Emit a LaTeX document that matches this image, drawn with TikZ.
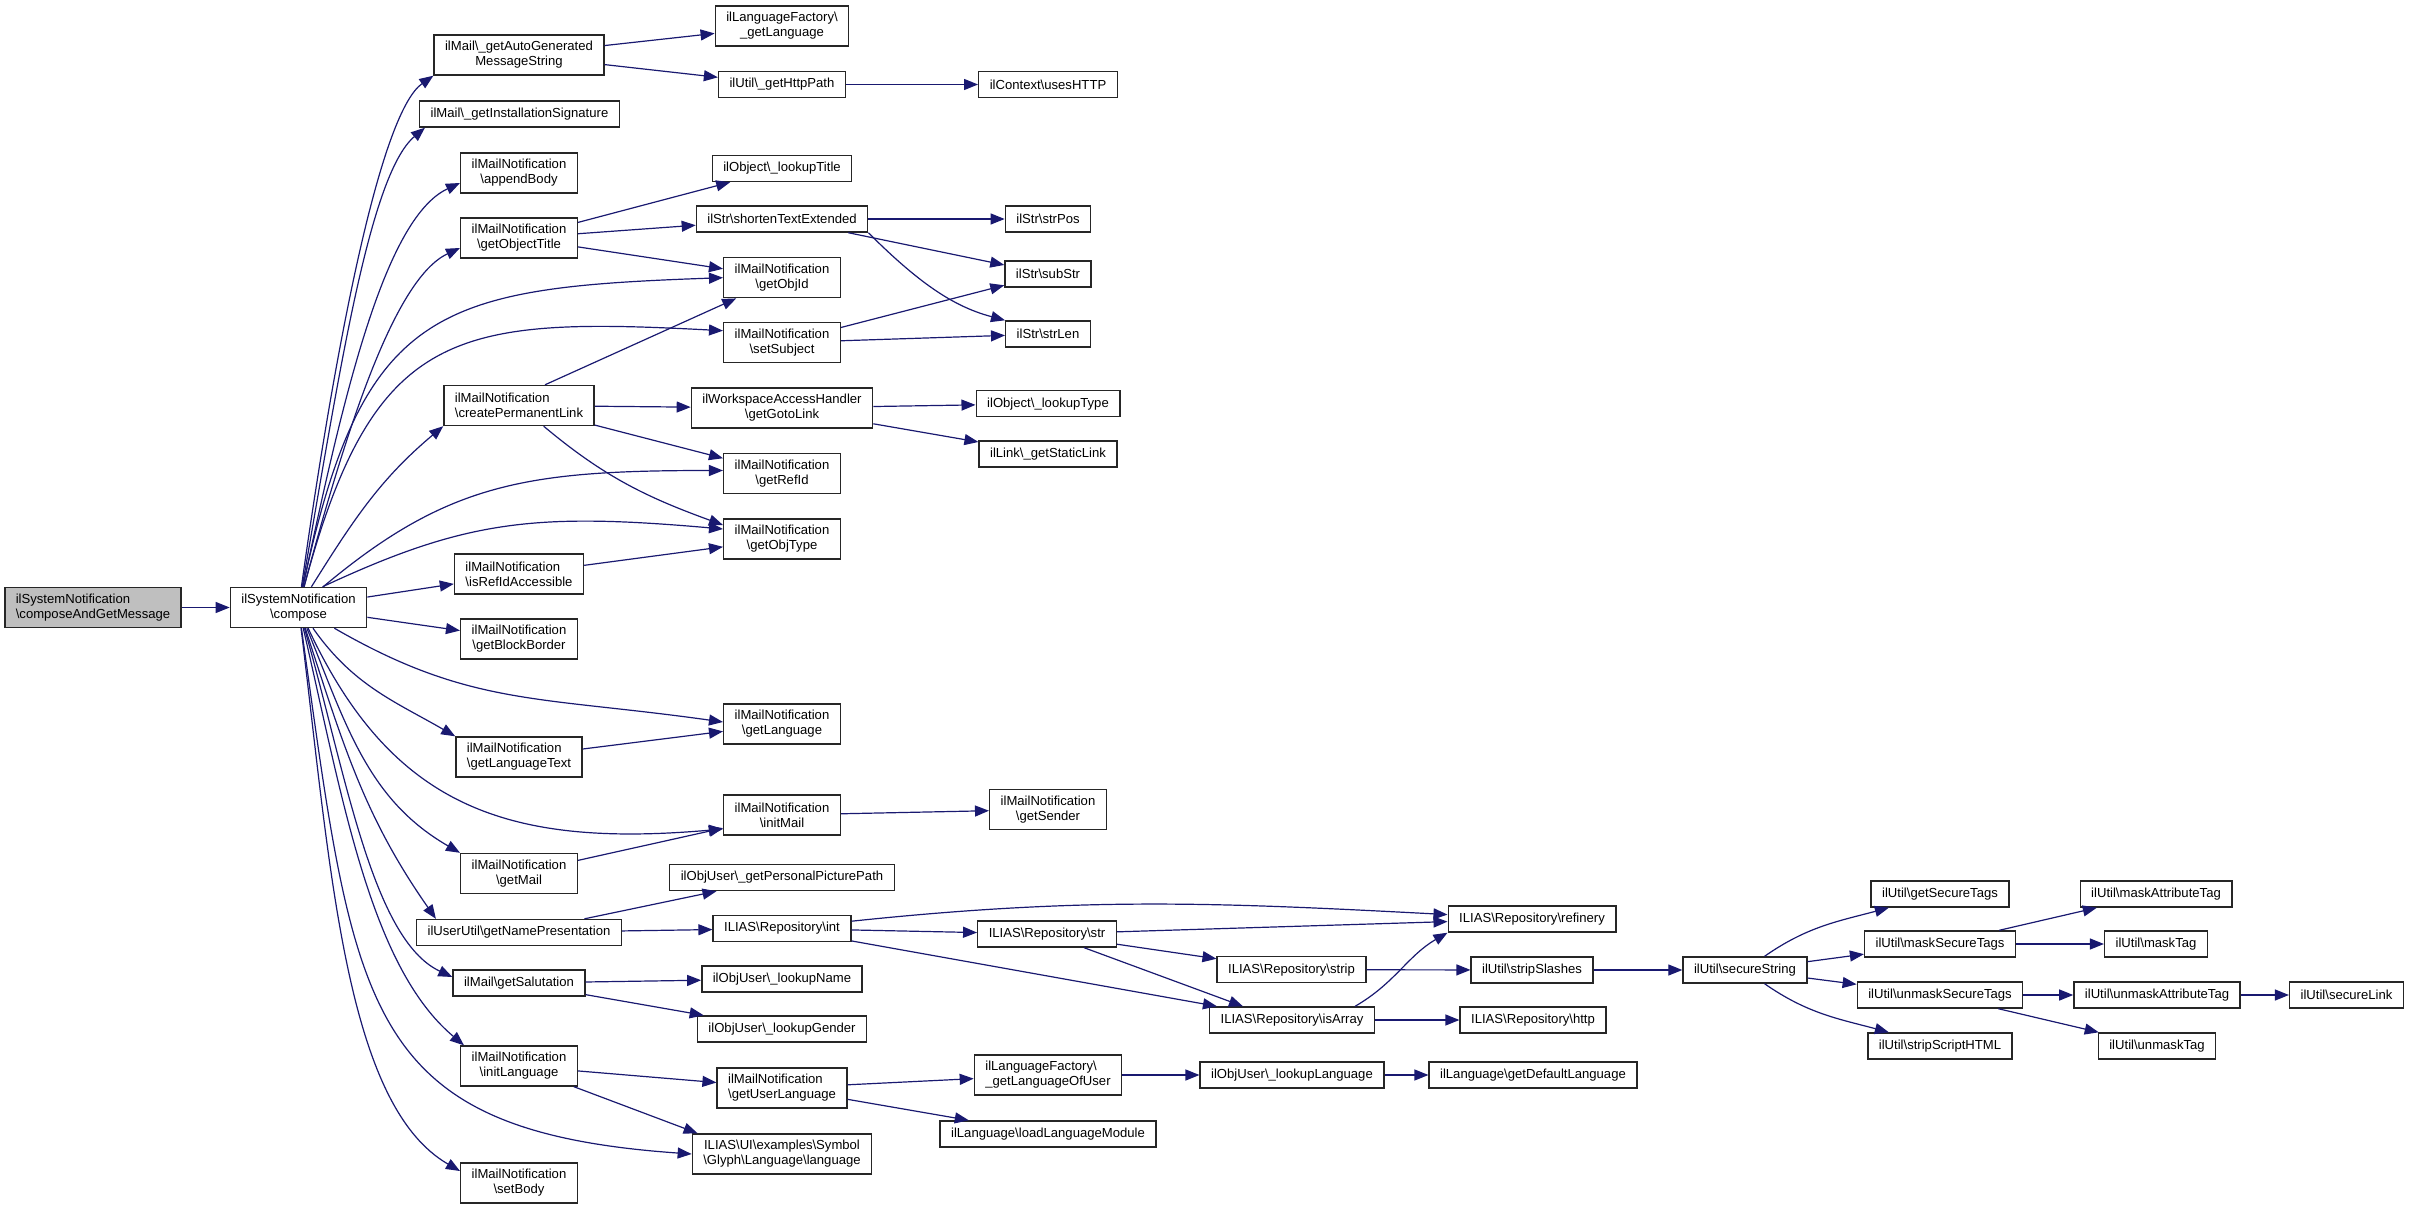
\documentclass[tikz,border=0pt]{standalone}
\usepackage{fontspec}
\setmainfont{Liberation Sans}
\usetikzlibrary{arrows.meta}
\definecolor{edgeblue}{HTML}{191970}
\definecolor{rootgray}{HTML}{BFBFBF}
\newcommand{\bsl}{\textbackslash}
\tikzset{
	fn/.style={draw=black!85, line width=0.7pt, fill=white, align=center,
			inner xsep=5.5pt, inner ysep=2.5pt, minimum height=13pt,
			font=\fontsize{6.55}{7.5}\selectfont},
	fn2/.style={fn, minimum height=20pt},
	fnl/.style={fn2, align=left},
	fnroot/.style={fnl, fill=rootgray},
	call/.style={draw=edgeblue, line width=0.6pt, -{Triangle[length=7pt,width=5.5pt]}}
}
\begin{document}
\begin{tikzpicture}[x=0.5pt, y=0.5pt]
		\useasboundingbox (0,0) rectangle (2409,-1209);

		% caller and compose
		\node[fnroot] (root) at (93,-607.5) {ilSystemNotification\\\bsl composeAndGetMessage};
		\node[fn2] (compose) at (298.5,-607.5) {ilSystemNotification\\\bsl compose};

		% functions called by compose
		\node[fn2] (mailAuto) at (519,-55) {ilMail\bsl\_getAutoGenerated\\MessageString};
		\node[fn] (installSig) at (519.5,-114) {ilMail\bsl\_getInstallationSignature};
		\node[fn2] (appendBody) at (519,-173) {ilMailNotification\\\bsl appendBody};
		\node[fn2] (getObjectTitle) at (519,-238) {ilMailNotification\\\bsl getObjectTitle};
		\node[fnl] (permLink) at (519,-405.5) {ilMailNotification\\\bsl createPermanentLink};
		\node[fnl] (isRefIdAcc) at (519,-574) {ilMailNotification\\\bsl isRefIdAccessible};
		\node[fn2] (blockBorder) at (519,-639) {ilMailNotification\\\bsl getBlockBorder};
		\node[fnl] (langText) at (519,-757) {ilMailNotification\\\bsl getLanguageText};
		\node[fn2] (getMail) at (519,-873.5) {ilMailNotification\\\bsl getMail};
		\node[fn] (namePres) at (519,-932.5) {ilUserUtil\bsl getNamePresentation};
		\node[fn] (salutation) at (519,-983) {ilMail\bsl getSalutation};
		\node[fn2] (initLang) at (519,-1066) {ilMailNotification\\\bsl initLanguage};
		\node[fn2] (setBody) at (519,-1183) {ilMailNotification\\\bsl setBody};

		% third column
		\node[fn2] (factLang) at (782,-26) {ilLanguageFactory\bsl\\\_getLanguage};
		\node[fn] (httpPath) at (782,-84.5) {ilUtil\bsl\_getHttpPath};
		\node[fn] (lookupTitle) at (782,-168.5) {ilObject\bsl\_lookupTitle};
		\node[fn] (shorten) at (782,-219) {ilStr\bsl shortenTextExtended};
		\node[fn2] (objId) at (782,-277.7) {ilMailNotification\\\bsl getObjId};
		\node[fn2] (subject) at (782,-342.7) {ilMailNotification\\\bsl setSubject};
		\node[fn2] (gotoLink) at (782,-408) {ilWorkspaceAccessHandler\\\bsl getGotoLink};
		\node[fn2] (refId) at (782,-473.5) {ilMailNotification\\\bsl getRefId};
		\node[fn2] (objType) at (782,-539) {ilMailNotification\\\bsl getObjType};
		\node[fn2] (mailLang) at (782,-724) {ilMailNotification\\\bsl getLanguage};
		\node[fn2] (initMail) at (782,-815) {ilMailNotification\\\bsl initMail};
		\node[fn] (picPath) at (782,-877.5) {ilObjUser\bsl\_getPersonalPicturePath};
		\node[fn] (repoInt) at (782,-928.5) {ILIAS\bsl Repository\bsl int};
		\node[fn] (lookupName) at (782,-979) {ilObjUser\bsl\_lookupName};
		\node[fn] (lookupGender) at (782,-1029) {ilObjUser\bsl\_lookupGender};
		\node[fnl] (userLang) at (782,-1088) {ilMailNotification\\\bsl getUserLanguage};
		\node[fn2] (glyphLang) at (782,-1154) {ILIAS\bsl UI\bsl examples\bsl Symbol\\\bsl Glyph\bsl Language\bsl language};

		% fourth column
		\node[fn] (usesHttp) at (1048,-84.5) {ilContext\bsl usesHTTP};
		\node[fn] (strPos) at (1048,-219) {ilStr\bsl strPos};
		\node[fn] (subStr) at (1048,-274) {ilStr\bsl subStr};
		\node[fn] (strLen) at (1048,-334) {ilStr\bsl strLen};
		\node[fn] (lookupType) at (1048,-403.7) {ilObject\bsl\_lookupType};
		\node[fn] (staticLink) at (1048,-454) {ilLink\bsl\_getStaticLink};
		\node[fn2] (sender) at (1048,-809.5) {ilMailNotification\\\bsl getSender};
		\node[fn] (repoStr) at (1047,-934) {ILIAS\bsl Repository\bsl str};
		\node[fnl] (langOfUser) at (1048,-1075) {ilLanguageFactory\bsl\\\_getLanguageOfUser};
		\node[fn] (loadModule) at (1048,-1134) {ilLanguage\bsl loadLanguageModule};

		% fifth and sixth column
		\node[fn] (repoStrip) at (1291.5,-969.7) {ILIAS\bsl Repository\bsl strip};
		\node[fn] (isArray) at (1292,-1020) {ILIAS\bsl Repository\bsl isArray};
		\node[fn] (lookupLang) at (1292,-1075) {ilObjUser\bsl\_lookupLanguage};
		\node[fn] (refinery) at (1532,-919) {ILIAS\bsl Repository\bsl refinery};
		\node[fn] (stripSlashes) at (1532,-970) {ilUtil\bsl stripSlashes};
		\node[fn] (repoHttp) at (1533,-1020) {ILIAS\bsl Repository\bsl http};
		\node[fn] (defaultLang) at (1533,-1075) {ilLanguage\bsl getDefaultLanguage};

		% secure string group
		\node[fn] (secureString) at (1745,-970) {ilUtil\bsl secureString};
		\node[fn] (getSecTags) at (1940,-894) {ilUtil\bsl getSecureTags};
		\node[fn] (maskSecTags) at (1940,-944) {ilUtil\bsl maskSecureTags};
		\node[fn] (unmaskSecTags) at (1940,-995) {ilUtil\bsl unmaskSecureTags};
		\node[fn] (stripScript) at (1940,-1046) {ilUtil\bsl stripScriptHTML};
		\node[fn] (maskAttr) at (2156,-894) {ilUtil\bsl maskAttributeTag};
		\node[fn] (maskTag) at (2156,-944) {ilUtil\bsl maskTag};
		\node[fn] (unmaskAttr) at (2157,-995) {ilUtil\bsl unmaskAttributeTag};
		\node[fn] (unmaskTag) at (2157,-1046) {ilUtil\bsl unmaskTag};
		\node[fn] (secureLink) at (2346.5,-995) {ilUtil\bsl secureLink};

		% edges from the caller and from compose
		\draw[call] (root) -- (compose);
		\draw[call] (compose) to[out=82,in=215,out looseness=1.3,in looseness=0.3] (mailAuto.south west);
		\draw[call] (compose) to[out=80,in=220,out looseness=1.1,in looseness=0.4] ([xshift=3pt]installSig.south west);
		\draw[call] (compose) to[out=78,in=205,out looseness=1.1,in looseness=0.5] ([yshift=-5pt]appendBody.west);
		\draw[call] (compose) to[out=75,in=205,out looseness=1.1,in looseness=0.5] ([yshift=-5pt]getObjectTitle.west);
		\draw[call] (compose) to[out=78,in=182,looseness=1.4] (objId.west);
		\draw[call] (compose) to[out=75,in=177,looseness=1.4] ([yshift=6pt]subject.west);
		\draw[call] (compose) to[out=58,in=220] (permLink.south west);
		\draw[call] (compose) to[out=40,in=180,in looseness=1.2] ([yshift=1.5pt]refId.west);
		\draw[call] ([xshift=12pt]compose.north) to[out=25,in=175,in looseness=1.2] ([yshift=5pt]objType.west);
		\draw[call] (compose) -- (isRefIdAcc);
		\draw[call] (compose) -- (blockBorder);
		\draw[call] (compose) to[out=-30,in=172,in looseness=1.2] ([yshift=1pt]mailLang.west);
		\draw[call] (compose) to[out=-55,in=150] (langText.north west);
		\draw[call] (compose) to[out=-65,in=185,out looseness=1.1,in looseness=1.2] ([yshift=-7pt]initMail.west);
		\draw[call] (compose) to[out=-68,in=150] (getMail.north west);
		\draw[call] (compose) to[out=-72,in=125] ([xshift=10pt]namePres.north west);
		\draw[call] (compose) to[out=-74,in=155,in looseness=0.6] ([yshift=3pt]salutation.west);
		\draw[call] (compose) to[out=-77,in=140,in looseness=0.7] ([xshift=2pt]initLang.north west);
		\draw[call] (compose) to[out=-82,in=176,out looseness=1.5,in looseness=1.3] (glyphLang.west);
		\draw[call] (compose) to[out=-83,in=150,out looseness=1.1,in looseness=0.6] ([yshift=6pt]setBody.west);

		% second level edges
		\draw[call] (mailAuto) -- (factLang);
		\draw[call] (mailAuto) -- (httpPath);
		\draw[call] (httpPath) -- (usesHttp);
		\draw[call] (getObjectTitle) -- (lookupTitle);
		\draw[call] (getObjectTitle) -- (shorten);
		\draw[call] (getObjectTitle) -- (objId);
		\draw[call] (shorten) -- (strPos);
		\draw[call] (shorten) -- (subStr);
		\draw[call] (shorten.south east) to[out=-45,in=165,out looseness=1.2,in looseness=0.8] (strLen.north west);
		\draw[call] (subject) -- (subStr);
		\draw[call] (subject) -- (strLen);
		\draw[call] ([xshift=13pt]permLink.north) -- (objId);
		\draw[call] (permLink) -- (gotoLink);
		\draw[call] (permLink) -- (refId);
		\draw[call] (permLink) to[out=-40,in=160] ([yshift=7pt]objType.west);
		\draw[call] (gotoLink) -- (lookupType);
		\draw[call] (gotoLink) -- (staticLink);
		\draw[call] (isRefIdAcc) -- (objType);
		\draw[call] (langText) -- (mailLang);
		\draw[call] (getMail) -- (initMail);
		\draw[call] (initMail) -- (sender);
		\draw[call] (namePres) -- (picPath);
		\draw[call] (namePres) -- (repoInt);
		\draw[call] (salutation) -- (lookupName);
		\draw[call] (salutation) -- (lookupGender);
		\draw[call] (initLang) -- (userLang);
		\draw[call] (initLang) -- ([xshift=3pt]glyphLang.north west);
		\draw[call] (userLang) -- (langOfUser);
		\draw[call] (userLang) -- (loadModule);
		\draw[call] (langOfUser) -- (lookupLang);
		\draw[call] (lookupLang) -- (defaultLang);

		% repository edges
		\draw[call] (repoInt) to[out=6,in=177] (refinery);
		\draw[call] (repoInt) -- (repoStr);
		\draw[call] (repoInt) -- ([xshift=4pt]isArray.north west);
		\draw[call] (repoStr) -- (refinery);
		\draw[call] (repoStr) -- (repoStrip);
		\draw[call] (repoStr) -- ([xshift=17pt]isArray.north west);
		\draw[call] (repoStrip) -- (stripSlashes);
		\draw[call] ([xshift=-10pt]isArray.north east) to[out=30,in=210] (refinery.south west);
		\draw[call] (isArray) -- (repoHttp);
		\draw[call] (stripSlashes) -- (secureString);

		% secure string edges
		\draw[call] (secureString) to[out=35,in=195] (getSecTags);
		\draw[call] (secureString) -- (maskSecTags);
		\draw[call] (secureString) -- (unmaskSecTags);
		\draw[call] (secureString) to[out=-35,in=165] (stripScript);
		\draw[call] (maskSecTags) -- (maskAttr);
		\draw[call] (maskSecTags) -- (maskTag);
		\draw[call] (unmaskSecTags) -- (unmaskAttr);
		\draw[call] (unmaskSecTags) -- (unmaskTag);
		\draw[call] (unmaskAttr) -- (secureLink);
	\end{tikzpicture}
\end{document}
